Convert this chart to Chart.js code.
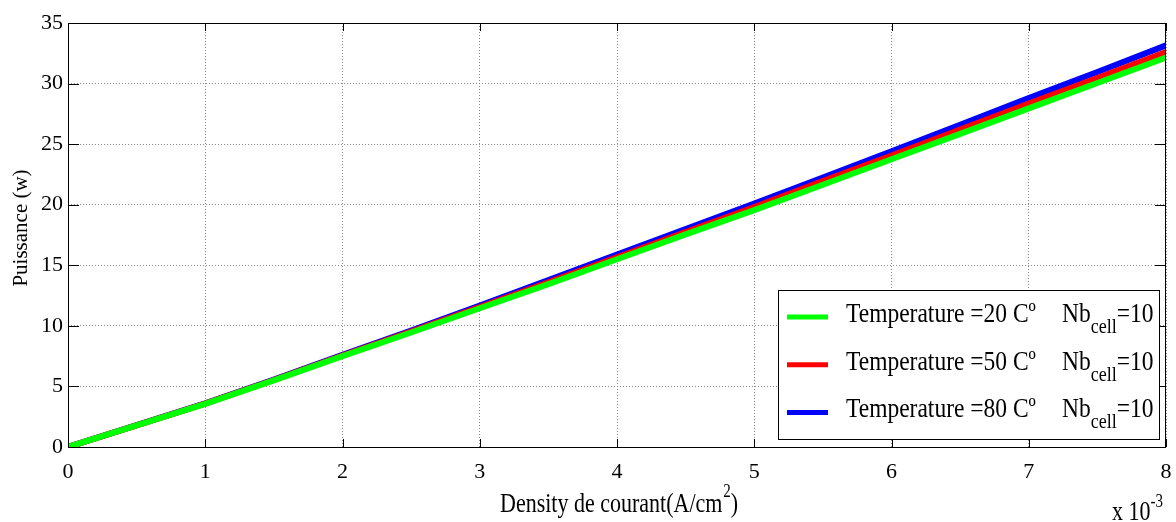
<!DOCTYPE html>
<html>
<head>
<meta charset="utf-8">
<script src="https://cdn.jsdelivr.net/npm/chart.js@4.4.0/dist/chart.umd.min.js"></script>
<style>
  html, body { margin: 0; padding: 0; background: #fff; }
  canvas { display: block; }
</style>
</head>
<body>
<canvas id="chart" width="1176" height="522"></canvas>
<script>
// current density (x 10^-3 A/cm2)
const density = [0, 0.5, 1, 1.5, 2, 2.5, 3, 3.5, 4, 4.5, 5, 5.5, 6, 6.5, 7, 7.5, 8];

// power (w) for each temperature
const power20 = [0, 1.78, 3.56, 5.5, 7.5, 9.45, 11.45, 13.45, 15.5, 17.55, 19.55, 21.65, 23.75, 25.85, 27.95, 30.05, 32.15];
const power50 = [0, 1.79, 3.58, 5.53, 7.55, 9.52, 11.55, 13.6, 15.65, 17.75, 19.8, 21.95, 24.05, 26.2, 28.35, 30.45, 32.6];
const power80 = [0, 1.8, 3.6, 5.57, 7.6, 9.62, 11.68, 13.78, 15.88, 18.0, 20.1, 22.25, 24.4, 26.6, 28.8, 30.95, 33.15];

const legendLabels = ['Temperature =20 C\u00ba', 'Temperature =50 C\u00ba', 'Temperature =80 C\u00ba'];
const seriesColors = ['#00ff00', '#ff0000', '#0000ff'];

const serif = '"Liberation Serif", "Times New Roman", serif';

function toPoints(ys) {
    return density.map((x, i) => ({ x: x, y: ys[i] }));
}

// stretched text, like the resized matlab figure
function stretchText(ctx, text, x, y, size, align) {
    ctx.save();
    ctx.font = size + 'px ' + serif;
    ctx.textAlign = align || 'left';
    ctx.textBaseline = 'alphabetic';
    ctx.translate(x, y);
    ctx.scale(1, 1.2);
    ctx.fillText(text, 0, 0);
    ctx.restore();
    ctx.font = size + 'px ' + serif;
    return ctx.measureText(text).width;
}

const matlabAxes = {
    id: 'matlabAxes',
    afterDatasetsDraw(chart) {
        const ctx = chart.ctx;
        const a = chart.chartArea;
        const xs = chart.scales.x;
        const ys = chart.scales.y;
        ctx.save();
        ctx.strokeStyle = '#000';
        ctx.lineWidth = 1;
        ctx.strokeRect(a.left + 0.5, a.top + 0.5, a.right - a.left - 1, a.bottom - a.top);
        ctx.beginPath();
        xs.ticks.forEach(t => {
            const px = Math.round(xs.getPixelForValue(t.value)) + 0.5;
            ctx.moveTo(px, a.bottom); ctx.lineTo(px, a.bottom - 8);
            ctx.moveTo(px, a.top); ctx.lineTo(px, a.top + 8);
        });
        ys.ticks.forEach(t => {
            const py = Math.round(ys.getPixelForValue(t.value)) + 0.5;
            ctx.moveTo(a.left, py); ctx.lineTo(a.left + 11, py);
            ctx.moveTo(a.right, py); ctx.lineTo(a.right - 11, py);
        });
        ctx.stroke();
        ctx.restore();
    },
    afterDraw(chart) {
        const ctx = chart.ctx;
        ctx.save();
        ctx.fillStyle = '#000';

        // y title
        ctx.save();
        ctx.translate(27, 228);
        ctx.rotate(-Math.PI / 2);
        ctx.font = '21px ' + serif;
        ctx.textAlign = 'center';
        ctx.fillText('Puissance (w)', 0, 0);
        ctx.restore();

        // x title
        let x = 500;
        x += stretchText(ctx, 'Density de courant(A/cm', x, 512, 22);
        x += stretchText(ctx, '2', x + 1, 497, 15) + 1;
        stretchText(ctx, ')', x, 512, 22);

        // exponent
        let ex = 1112;
        ex += stretchText(ctx, 'x 10', ex, 520, 22);
        stretchText(ctx, '-3', ex, 507, 15);

        // legend
        const lx = 778, ly = 290, lw = 381, lh = 149;
        ctx.fillStyle = '#fff';
        ctx.fillRect(lx, ly, lw, lh);
        ctx.strokeStyle = '#000';
        ctx.lineWidth = 1;
        ctx.strokeRect(lx + 0.5, ly + 0.5, lw, lh);
        legendLabels.forEach((label, i) => {
            const rowY = 317 + i * 47.7;
            ctx.strokeStyle = seriesColors[i];
            ctx.lineWidth = 5;
            ctx.beginPath();
            ctx.moveTo(787, rowY);
            ctx.lineTo(828, rowY);
            ctx.stroke();
            ctx.fillStyle = '#000';
            stretchText(ctx, label, 846, rowY + 5, 23.5);
            let nx = 1062;
            nx += stretchText(ctx, 'Nb', nx, rowY + 5, 23.5);
            nx += stretchText(ctx, 'cell', nx, rowY + 16, 18);
            stretchText(ctx, '=10', nx, rowY + 5, 23.5);
        });
        ctx.restore();
    }
};

new Chart(document.getElementById('chart').getContext('2d'), {
    type: 'line',
    data: {
        datasets: [power20, power50, power80].map((ys, i) => ({
            label: legendLabels[i],
            data: toPoints(ys),
            borderColor: seriesColors[i],
            backgroundColor: seriesColors[i],
            borderWidth: 6,
            pointRadius: 0,
            tension: 0,
            fill: false
        }))
    },
    options: {
        responsive: false,
        animation: false,
        devicePixelRatio: 1,
        layout: { padding: { top: 23, right: 10, left: 0, bottom: 0 } },
        plugins: {
            legend: { display: false },
            tooltip: { enabled: false }
        },
        scales: {
            x: {
                type: 'linear',
                min: 0,
                max: 8,
                afterFit: s => { s.height = 75; s.paddingLeft = 0; s.paddingRight = 0; },
                ticks: {
                    stepSize: 1,
                    color: '#000',
                    padding: 12,
                    font: { family: serif, size: 22 }
                },
                grid: { color: '#8a8a8a', lineWidth: 1, drawTicks: false },
                border: { display: false, dash: [1, 2] }
            },
            y: {
                min: 0,
                max: 35,
                afterFit: s => { s.width = 68; s.paddingTop = 0; s.paddingBottom = 0; },
                ticks: {
                    stepSize: 5,
                    color: '#000',
                    padding: 5,
                    font: { family: serif, size: 22 }
                },
                grid: { color: '#8a8a8a', lineWidth: 1, drawTicks: false },
                border: { display: false, dash: [1, 2] }
            }
        }
    },
    plugins: [matlabAxes]
});
</script>
</body>
</html>
